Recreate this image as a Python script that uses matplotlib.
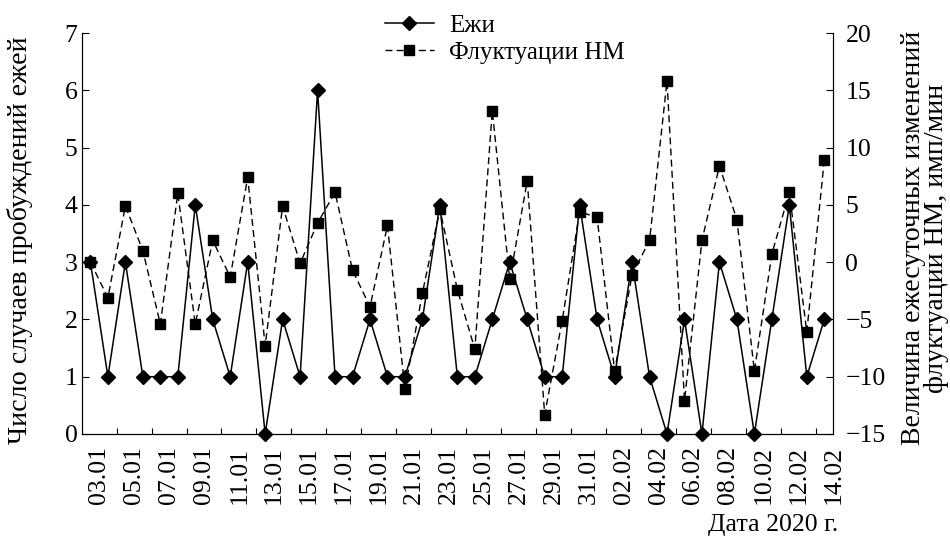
import numpy as np
import matplotlib
matplotlib.use("Agg")
import matplotlib.pyplot as plt
import matplotlib.transforms as mtransforms

plt.rcParams['font.family'] = ['Liberation Serif', 'DejaVu Serif']
plt.rcParams['axes.unicode_minus'] = True

# даты 03.01 - 14.02.2020
dates = ['03.01', '04.01', '05.01', '06.01', '07.01', '08.01', '09.01', '10.01',
         '11.01', '12.01', '13.01', '14.01', '15.01', '16.01', '17.01', '18.01',
         '19.01', '20.01', '21.01', '22.01', '23.01', '24.01', '25.01', '26.01',
         '27.01', '28.01', '29.01', '30.01', '31.01', '01.02', '02.02', '03.02',
         '04.02', '05.02', '06.02', '07.02', '08.02', '09.02', '10.02', '11.02',
         '12.02', '13.02', '14.02']

# число пробуждений ежей
hedgehogs = [3, 1, 3, 1, 1, 1, 4, 2, 1, 3, 0, 2, 1, 6, 1, 1, 2, 1, 1, 2, 4, 1,
             1, 2, 3, 2, 1, 1, 4, 2, 1, 3, 1, 0, 2, 0, 3, 2, 0, 2, 4, 1, 2]

# флуктуации НМ, имп/мин
nm_fluct = [0.0, -3.1, 4.9, 1.0, -5.4, 6.0, -5.4, 1.9, -1.3, 7.4, -7.3, 4.9,
            -0.1, 3.4, 6.1, -0.7, -3.9, 3.2, -11.1, -2.7, 4.6, -2.4, -7.6, 13.2,
            -1.5, 7.1, -13.3, -5.1, 4.4, 3.9, -9.5, -1.1, 1.9, 15.8, -12.1, 1.9,
            8.4, 3.7, -9.5, 0.7, 6.1, -6.1, 8.9]

left_ticks = [0, 1, 2, 3, 4, 5, 6, 7]
right_ticks = [-15, -10, -5, 0, 5, 10, 15, 20]

fs = 18.5
x = np.arange(len(dates))

fig = plt.figure(figsize=(9.5, 5.42), dpi=100)
ax = fig.add_axes([81.7 / 950, 1 - 434 / 542, (833 - 81.7) / 950, (434 - 33) / 542])
ax2 = ax.twinx()

ax.plot(x, hedgehogs, color='black', lw=1.1, marker='D', ms=7.5,
        clip_on=False, zorder=3, label='Ежи')
l2, = ax2.plot(x, nm_fluct, color='black', lw=1.0, ls='--', marker='s', ms=6.5,
               clip_on=False, zorder=3, label='Флуктуации НМ')
l2.set_dashes((5, 3))

ax.set_xlim(-0.5, len(dates) - 0.5)
ax.set_ylim(0, 7)
ax2.set_ylim(-15, 20)

ax.set_yticks(left_ticks)
ax2.set_yticks(right_ticks)
ax.set_xticks(x[::2])
ax.set_xticklabels(dates[::2], rotation=90, fontsize=fs)
ax.set_xticks(np.arange(1.5, len(dates) - 1, 2), minor=True)

ax.tick_params(axis='x', which='major', length=0, pad=9)
ax.tick_params(axis='x', which='minor', direction='in', length=4, width=0.8)
ax.tick_params(axis='y', direction='in', length=5, width=0.8, labelsize=fs, pad=3)
ax2.tick_params(axis='y', direction='in', length=5, width=0.8, labelsize=fs, pad=9)
for lab in ax2.get_yticklabels():
    lab.set_horizontalalignment('left')

offset = mtransforms.ScaledTranslation(9 / 100, 0, fig.dpi_scale_trans)
for lab in ax.get_xticklabels():
    lab.set_transform(lab.get_transform() + offset)

for a in (ax, ax2):
    a.spines['top'].set_visible(False)
    for s in ('left', 'right', 'bottom'):
        a.spines[s].set_linewidth(0.8)

fig.text(20 / 950, 1 - 240 / 542, 'Число случаев пробуждений ежей',
         rotation=90, ha='center', va='center', fontsize=20.2)
fig.text(925 / 950, 1 - 238 / 542,
         'Величина ежесуточных изменений\nфлуктуации НМ, имп/мин',
         rotation=90, ha='center', va='center', fontsize=20,
         multialignment='center', linespacing=0.92)
fig.text(838 / 950, 1 - 525 / 542, 'Дата 2020 г.', ha='right', va='center',
         fontsize=fs)

h1, lb1 = ax.get_legend_handles_labels()
h2, lb2 = ax2.get_legend_handles_labels()
fig.legend(h1 + h2, lb1 + lb2, loc='upper left',
           bbox_to_anchor=(385 / 950, 1 - 14 / 542), frameon=False,
           fontsize=18, handlelength=1.95, handletextpad=0.6,
           labelspacing=0.2, borderpad=0, borderaxespad=0)

fig.savefig('out.png', dpi=100)
